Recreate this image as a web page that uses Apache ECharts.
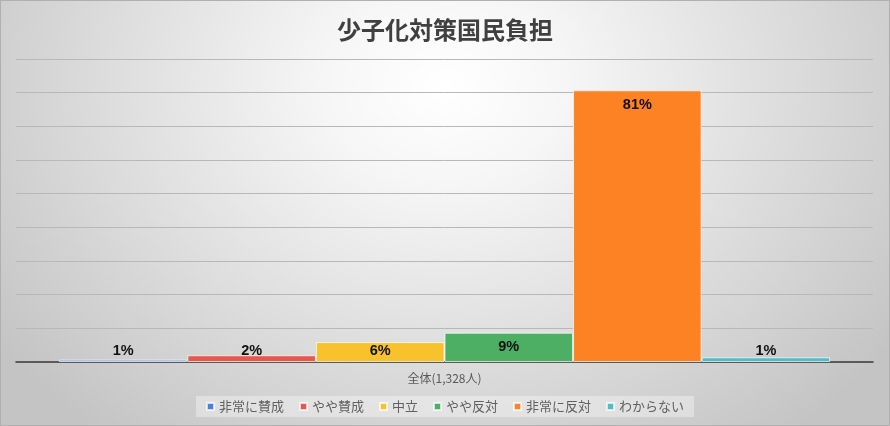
<!DOCTYPE html>
<html><head><meta charset="utf-8">
<script src="https://cdn.jsdelivr.net/npm/echarts@6/dist/echarts.min.js"></script>
<style>
html,body{margin:0;padding:0;}
#c{width:890px;height:426px;box-sizing:border-box;border:1px solid #b0b0b0;
background:radial-gradient(ellipse 62% 105% at 50% 20%, #ffffff 0%, #f6f6f6 22%, #c4c4c4 100%);}
</style></head>
<body><div id="c"></div>
<script>
const title = '少子化対策国民負担';
const categories = ['全体(1,328人)'];
const seriesNames = ['非常に賛成','やや賛成','中立','やや反対','非常に反対','わからない'];
const seriesValues = [0.7, 2.0, 5.9, 8.7, 80.7, 1.4];
const seriesLabels = ['1%','2%','6%','9%','81%','1%'];
const colors = ['#4b80de','#e8574d','#f8c22c','#4daf63','#fd8224','#50bcc8'];

const chart = echarts.init(document.getElementById('c'), null, {renderer:'canvas'});
const series = seriesNames.map((n,i)=>({
  name:n, type:'bar', barGap:0, barCategoryGap:'10%',
  data:[seriesValues[i]],
  itemStyle:{color:colors[i], borderColor:'rgba(255,255,255,0.7)', borderWidth:1},
  label:{show:true,
    position: seriesValues[i] < 7 ? 'insideBottom' : 'insideTop',
    distance: seriesValues[i] < 7 ? 4 : 7,
    formatter: ()=>seriesLabels[i],
    color:'#111', fontWeight:'bold', fontSize:14.5, fontFamily:'Liberation Sans, Arial, sans-serif'}
}));
chart.setOption({
  backgroundColor:'transparent',
  color:colors,
  title:{text:title, left:'center', top:12,
    textStyle:{fontSize:24, fontWeight:'bold', color:'#404040', fontFamily:'Noto Sans CJK JP'}},
  grid:{left:15, right:16, top:58, bottom:63},
  xAxis:{type:'category', data:categories,
    axisLine:{lineStyle:{color:'#3a3a3a', width:1.5}}, axisTick:{show:false},
    axisLabel:{color:'#595959', fontSize:12, margin:10, fontFamily:'Noto Sans CJK JP'}},
  yAxis:{type:'value', min:0, max:90, interval:10, axisLabel:{show:false},
    axisLine:{show:false}, axisTick:{show:false},
    splitLine:{lineStyle:{color:'#b8b8b8', width:1}}},
  legend:{left:'center', top:395, icon:'rect', itemWidth:7, itemHeight:7, itemGap:15,
    padding:[4,10], backgroundColor:'rgba(255,255,255,0.35)',
    textStyle:{color:'#606060', fontSize:13, fontFamily:'Noto Sans CJK JP'}},
  series:series
});
</script></body></html>
